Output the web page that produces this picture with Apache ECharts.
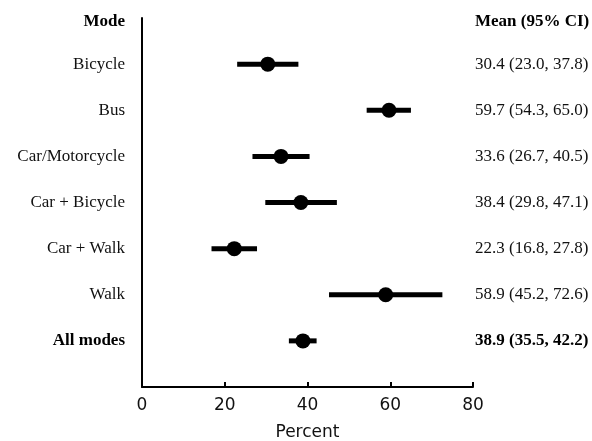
<!DOCTYPE html>
<html>
<head>
<meta charset="utf-8">
<script src="https://cdn.jsdelivr.net/npm/echarts@6/dist/echarts.min.js"></script>
<style>
  html, body { margin: 0; padding: 0; background: #fff; }
  #chart { width: 592px; height: 441px; }
</style>
</head>
<body>
<div id="chart"></div>
<script>
const modes = ['Bicycle', 'Bus', 'Car/Motorcycle', 'Car + Bicycle', 'Car + Walk', 'Walk', 'All modes'];
const means = [30.4, 59.7, 33.6, 38.4, 22.3, 58.9, 38.9];
const lows = [23.0, 54.3, 26.7, 29.8, 16.8, 45.2, 35.5];
const highs = [37.8, 65.0, 40.5, 47.1, 27.8, 72.6, 42.2];
const xTicks = [0, 20, 40, 60, 80];

const serif = '"Liberation Serif", "Times New Roman", serif';
const fmt = (v) => v.toFixed(1);

// row 0 is the header, rows 1..7 the modes
const leftLabels = ['Mode'].concat(modes);
const rightLabels = ['Mean (95% CI)'].concat(
  modes.map((m, i) => `${fmt(means[i])} (${fmt(lows[i])}, ${fmt(highs[i])})`)
);
const boldRows = [0, modes.length];

const rowData = modes.map((m, i) => [means[i], i + 1, lows[i], highs[i]]);

function labelFormatter(list) {
  return (val) => {
    const i = Math.round(val);
    if (i < 0 || i >= list.length) return '';
    if (i === 0) return `{h|${list[i]}}`;
    return boldRows.includes(i) ? `{b|${list[i]}}` : `{n|${list[i]}}`;
  };
}

const rich = {
  n: { fontFamily: serif, fontSize: 17, color: '#111' },
  b: { fontFamily: serif, fontSize: 17, fontWeight: 'bold', color: '#000' },
  h: { fontFamily: serif, fontSize: 17, fontWeight: 'bold', color: '#000', padding: [8, 0, 0, 0] },
};

const chart = echarts.init(document.getElementById('chart'));
chart.setOption({
  animation: false,
  grid: { left: 142, right: 119, top: 18, bottom: 54, outerBoundsMode: 'none' },
  xAxis: {
    type: 'value',
    min: xTicks[0],
    max: xTicks[xTicks.length - 1],
    interval: 20,
    name: 'Percent',
    nameLocation: 'middle',
    nameGap: 37,
    nameTextStyle: { fontFamily: 'DejaVu Sans', fontSize: 17, color: '#111' },
    axisLine: { onZero: false, lineStyle: { color: '#000', width: 2 } },
    axisTick: { inside: true, length: 5, lineStyle: { color: '#000', width: 2 } },
    axisLabel: { fontFamily: 'DejaVu Sans', fontSize: 17, color: '#111', margin: 10 },
    splitLine: { show: false },
  },
  yAxis: [
    {
      type: 'value',
      inverse: true,
      min: 0,
      max: 8,
      interval: 1,
      axisLine: { show: true, onZero: false, lineStyle: { color: '#000', width: 2 } },
      axisTick: { show: false },
      splitLine: { show: false },
      axisLabel: { margin: 17, formatter: labelFormatter(leftLabels), rich },
    },
    {
      type: 'value',
      position: 'right',
      inverse: true,
      min: 0,
      max: 8,
      interval: 1,
      axisLine: { show: false },
      axisTick: { show: false },
      splitLine: { show: false },
      axisLabel: { margin: 2, formatter: labelFormatter(rightLabels), rich },
    },
  ],
  series: [
    {
      type: 'custom',
      data: rowData,
      renderItem: (params, api) => {
        const y = api.value(1);
        const mid = api.coord([api.value(0), y]);
        const lo = api.coord([api.value(2), y]);
        const hi = api.coord([api.value(3), y]);
        return {
          type: 'group',
          children: [
            {
              type: 'line',
              shape: { x1: lo[0], y1: lo[1], x2: hi[0], y2: hi[1] },
              style: { stroke: '#000', lineWidth: 5 },
            },
            {
              type: 'circle',
              shape: { cx: mid[0], cy: mid[1], r: 7.5 },
              style: { fill: '#000' },
            },
          ],
        };
      },
    },
  ],
});
</script>
</body>
</html>
